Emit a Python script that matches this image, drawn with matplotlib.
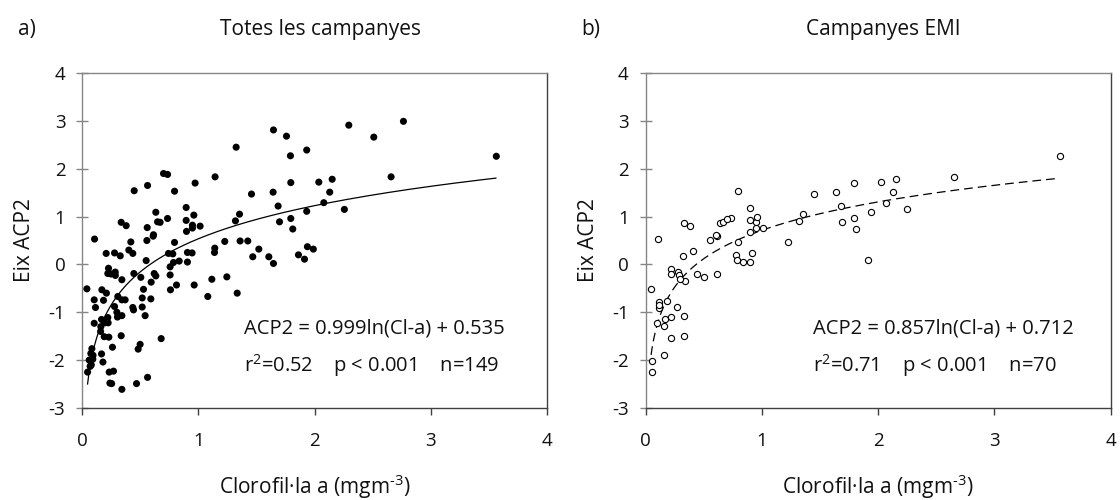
import numpy as np
import matplotlib
matplotlib.use("Agg")
import matplotlib.pyplot as plt

plt.rcParams['font.family'] = ['Open Sans', 'DejaVu Sans']
plt.rcParams['mathtext.fontset'] = 'custom'
plt.rcParams['mathtext.rm'] = 'Open Sans'
plt.rcParams['mathtext.it'] = 'Open Sans:italic'
plt.rcParams['mathtext.bf'] = 'Open Sans:bold'
plt.rcParams['axes.unicode_minus'] = False

# --- a) all campaigns: chlorophyll a vs PCA axis 2 ---
all_chl = [1.647, 1.759, 1.326, 1.933, 1.793, 0.701, 0.736, 1.145, 0.564, 0.973,
           0.449, 0.796, 1.796, 1.644, 1.458, 0.896, 1.687, 1.933, 0.635, 0.736,
           0.962, 0.896, 1.355, 1.320, 1.699, 1.796, 1.813, 0.337, 0.380, 0.650,
           0.672, 0.561, 1.016, 0.950, 0.899, 0.615, 0.108, 0.558, 0.796, 0.420,
           1.228, 1.360, 1.426, 1.142, 1.140, 1.521, 0.208, 0.280, 0.329, 0.403,
           0.437, 0.744, 0.781, 0.907, 0.947, 1.469, 1.607, 1.647, 1.862, 1.914,
           1.939, 0.552, 0.758, 0.787, 0.836, 0.907, 0.228, 0.222, 0.286, 0.343,
           0.446, 0.506, 0.595, 0.635, 0.621, 0.758, 0.813, 0.965, 1.117, 1.246,
           1.335, 1.082, 0.761, 0.042, 0.171, 0.529, 0.592, 0.518, 0.105, 0.116,
           0.185, 0.308, 0.343, 0.371, 0.280, 0.437, 0.443, 0.518, 0.543, 0.305,
           0.343, 0.222, 0.168, 0.105, 0.162, 0.197, 0.225, 0.191, 0.231, 0.337,
           0.262, 0.681, 0.500, 0.483, 0.085, 0.076, 0.168, 0.062, 0.093, 0.180,
           0.070, 0.048, 0.234, 0.271, 0.240, 0.255, 0.343, 0.469, 0.564, 2.295,
           2.765, 2.510, 3.564, 2.037, 2.152, 2.659, 2.131, 2.080, 2.257, 1.990,
           0.287, 0.950, 0.095, 0.250, 0.612, 0.080, 0.300, 0.210, 0.160]
all_pc2 = [2.81, 2.68, 2.45, 2.39, 2.27, 1.90, 1.88, 1.83, 1.65, 1.70,
           1.54, 1.53, 1.71, 1.51, 1.47, 1.19, 1.22, 1.11, 1.09, 0.96,
           1.03, 0.92, 1.05, 0.91, 0.89, 0.96, 0.74, 0.88, 0.81, 0.89,
           0.88, 0.77, 0.80, 0.82, 0.69, 0.62, 0.53, 0.50, 0.46, 0.47,
           0.48, 0.49, 0.49, 0.34, 0.25, 0.32, 0.23, 0.24, 0.18, 0.30,
           0.23, 0.23, 0.22, 0.25, 0.24, 0.16, 0.16, 0.02, 0.20, 0.11,
           0.37, 0.08, -0.05, 0.04, 0.07, 0.05, -0.08, -0.19, -0.16, -0.32,
           -0.19, -0.27, -0.37, -0.24, -0.19, -0.22, -0.43, -0.43, -0.31, -0.26,
           -0.60, -0.67, -0.53, -0.51, -0.53, -0.52, -0.72, -0.70, -0.74, -0.90,
           -0.75, -0.67, -0.74, -0.74, -0.88, -0.90, -0.95, -0.89, -1.07, -1.10,
           -1.07, -1.11, -1.15, -1.23, -1.30, -1.22, -1.22, -1.51, -1.52, -1.49,
           -1.73, -1.55, -1.67, -1.77, -1.76, -1.86, -1.87, -2.00, -1.98, -2.04,
           -2.13, -2.25, -2.25, -2.23, -2.48, -2.49, -2.61, -2.49, -2.36, 2.91,
           2.99, 2.66, 2.26, 1.72, 1.78, 1.83, 1.51, 1.29, 1.15, 0.32,
           -0.23, 0.76, -1.90, -0.20, 0.59, -2.10, -1.00, -0.60, -1.40]

# --- b) EMI campaigns ---
emi_chl = [0.044, 0.105, 0.053, 0.053, 0.112, 0.112, 0.100, 0.158, 0.169, 0.183,
           0.223, 0.163, 0.223, 0.275, 0.332, 0.332, 0.223, 0.220, 0.281, 0.287,
           0.338, 0.324, 0.332, 0.381, 0.405, 0.442, 0.502, 0.612, 0.554, 0.612,
           0.608, 0.637, 0.666, 0.732, 0.793, 0.796, 0.779, 0.784, 0.841, 0.902,
           0.913, 0.896, 0.896, 0.896, 0.950, 0.962, 0.950, 1.013, 1.222, 1.320,
           1.351, 1.452, 1.641, 1.684, 1.693, 1.793, 1.793, 1.810, 1.913, 1.942,
           2.028, 2.073, 2.128, 2.151, 2.251, 2.655, 3.564, 0.120, 0.300, 0.700]
emi_pc2 = [-0.52, 0.53, -2.01, -2.25, -0.79, -0.92, -1.23, -1.28, -1.15, -0.77,
           -1.10, -1.89, -1.53, -0.89, -1.07, -1.50, -0.09, -0.20, -0.16, -0.23,
           -0.35, 0.18, 0.87, 0.81, 0.29, -0.20, -0.27, -0.20, 0.51, 0.59,
           0.61, 0.87, 0.88, 0.96, 1.54, 0.47, 0.20, 0.09, 0.05, 0.05,
           0.24, 0.67, 0.92, 1.17, 0.89, 1.00, 0.76, 0.77, 0.47, 0.90,
           1.06, 1.47, 1.51, 1.23, 0.89, 1.71, 0.96, 0.74, 0.10, 1.09,
           1.73, 1.29, 1.51, 1.79, 1.16, 1.83, 2.26, -0.85, -0.30, 0.95]

# logarithmic fits: ACP2 = a*ln(Cl-a) + b
fit_all = (0.999, 0.535)
fit_emi = (0.857, 0.712)
fit_range = (0.048, 3.56)

x_ticks = [0, 1, 2, 3, 4]
y_ticks = [-3, -2, -1, 0, 1, 2, 3, 4]

W, H = 1120, 500
fig = plt.figure(figsize=(W / 100, H / 100), dpi=100)

ax_l, ax_b, ax_w, ax_h = 82, 92, 465, 335
axes = [fig.add_axes([ax_l / W, ax_b / H, ax_w / W, ax_h / H]),
        fig.add_axes([645.5 / W, ax_b / H, ax_w / W, ax_h / H])]

grey = '#868686'
dark = '#404040'
ink = '#111111'


def style(ax):
    ax.set_xlim(0, 4)
    ax.set_ylim(-3, 4)
    ax.set_xticks(x_ticks)
    ax.set_yticks(y_ticks)
    ax.spines['top'].set_color(grey)
    ax.spines['left'].set_color(grey)
    ax.spines['bottom'].set_color(dark)
    ax.spines['right'].set_color(dark)
    for s in ax.spines.values():
        s.set_linewidth(1.0)
    ax.tick_params(axis='y', direction='inout', length=8, width=1.0,
                   color=grey, pad=8, labelsize=13.5, labelcolor=ink)
    ax.tick_params(axis='x', direction='out', length=5, width=1.0,
                   color=dark, pad=12, labelsize=13.5, labelcolor=ink)


xs = np.linspace(fit_range[0], fit_range[1], 400)

ax = axes[0]
style(ax)
ax.scatter(all_chl, all_pc2, s=26, color='black', edgecolors='none', zorder=3)
ax.plot(xs, fit_all[0] * np.log(xs) + fit_all[1], color='black', lw=0.9, zorder=2)
ax.text(1.395, -1.45, 'ACP2 = 0.999ln(Cl-a) + 0.535', fontsize=14.5, color=ink)
ax.text(1.395, -2.25, 'r$^2$=0.52    p < 0.001    n=149', fontsize=14.5, color=ink)

ax = axes[1]
style(ax)
ax.scatter(emi_chl, emi_pc2, s=20, facecolors='white', edgecolors='black',
           linewidths=0.8, zorder=3)
ax.plot(xs, fit_emi[0] * np.log(xs) + fit_emi[1], color='black', lw=0.9,
        dashes=(7, 4), zorder=2)
ax.text(1.44, -1.45, 'ACP2 = 0.857ln(Cl-a) + 0.712', fontsize=14.5, color=ink)
ax.text(1.44, -2.25, 'r$^2$=0.71    p < 0.001    n=70', fontsize=14.5, color=ink)

# panel letters, titles and axis labels
title_y = 1 - 35 / H
fig.text(18 / W, title_y, 'a)', fontsize=15, va='baseline', ha='left', color=ink)
fig.text(320 / W, title_y, 'Totes les campanyes', fontsize=15, va='baseline',
         ha='center', color=ink)
fig.text(581 / W, title_y, 'b)', fontsize=15, va='baseline', ha='left', color=ink)
fig.text(883.5 / W, title_y, 'Campanyes EMI', fontsize=15, va='baseline',
         ha='center', color=ink)

for left in (ax_l, 645.5):
    fig.text((left - 57) / W, (ax_b + ax_h / 2) / H, 'Eix ACP2', fontsize=15,
             rotation=90, ha='center', va='center', color=ink)
    fig.text((left + ax_w / 2) / W, 6 / H, r'Clorofil·la a (mgm$^{\text{-}3}$)',
             fontsize=15, ha='center', va='baseline', color=ink)

fig.savefig('out.png', dpi=100)
